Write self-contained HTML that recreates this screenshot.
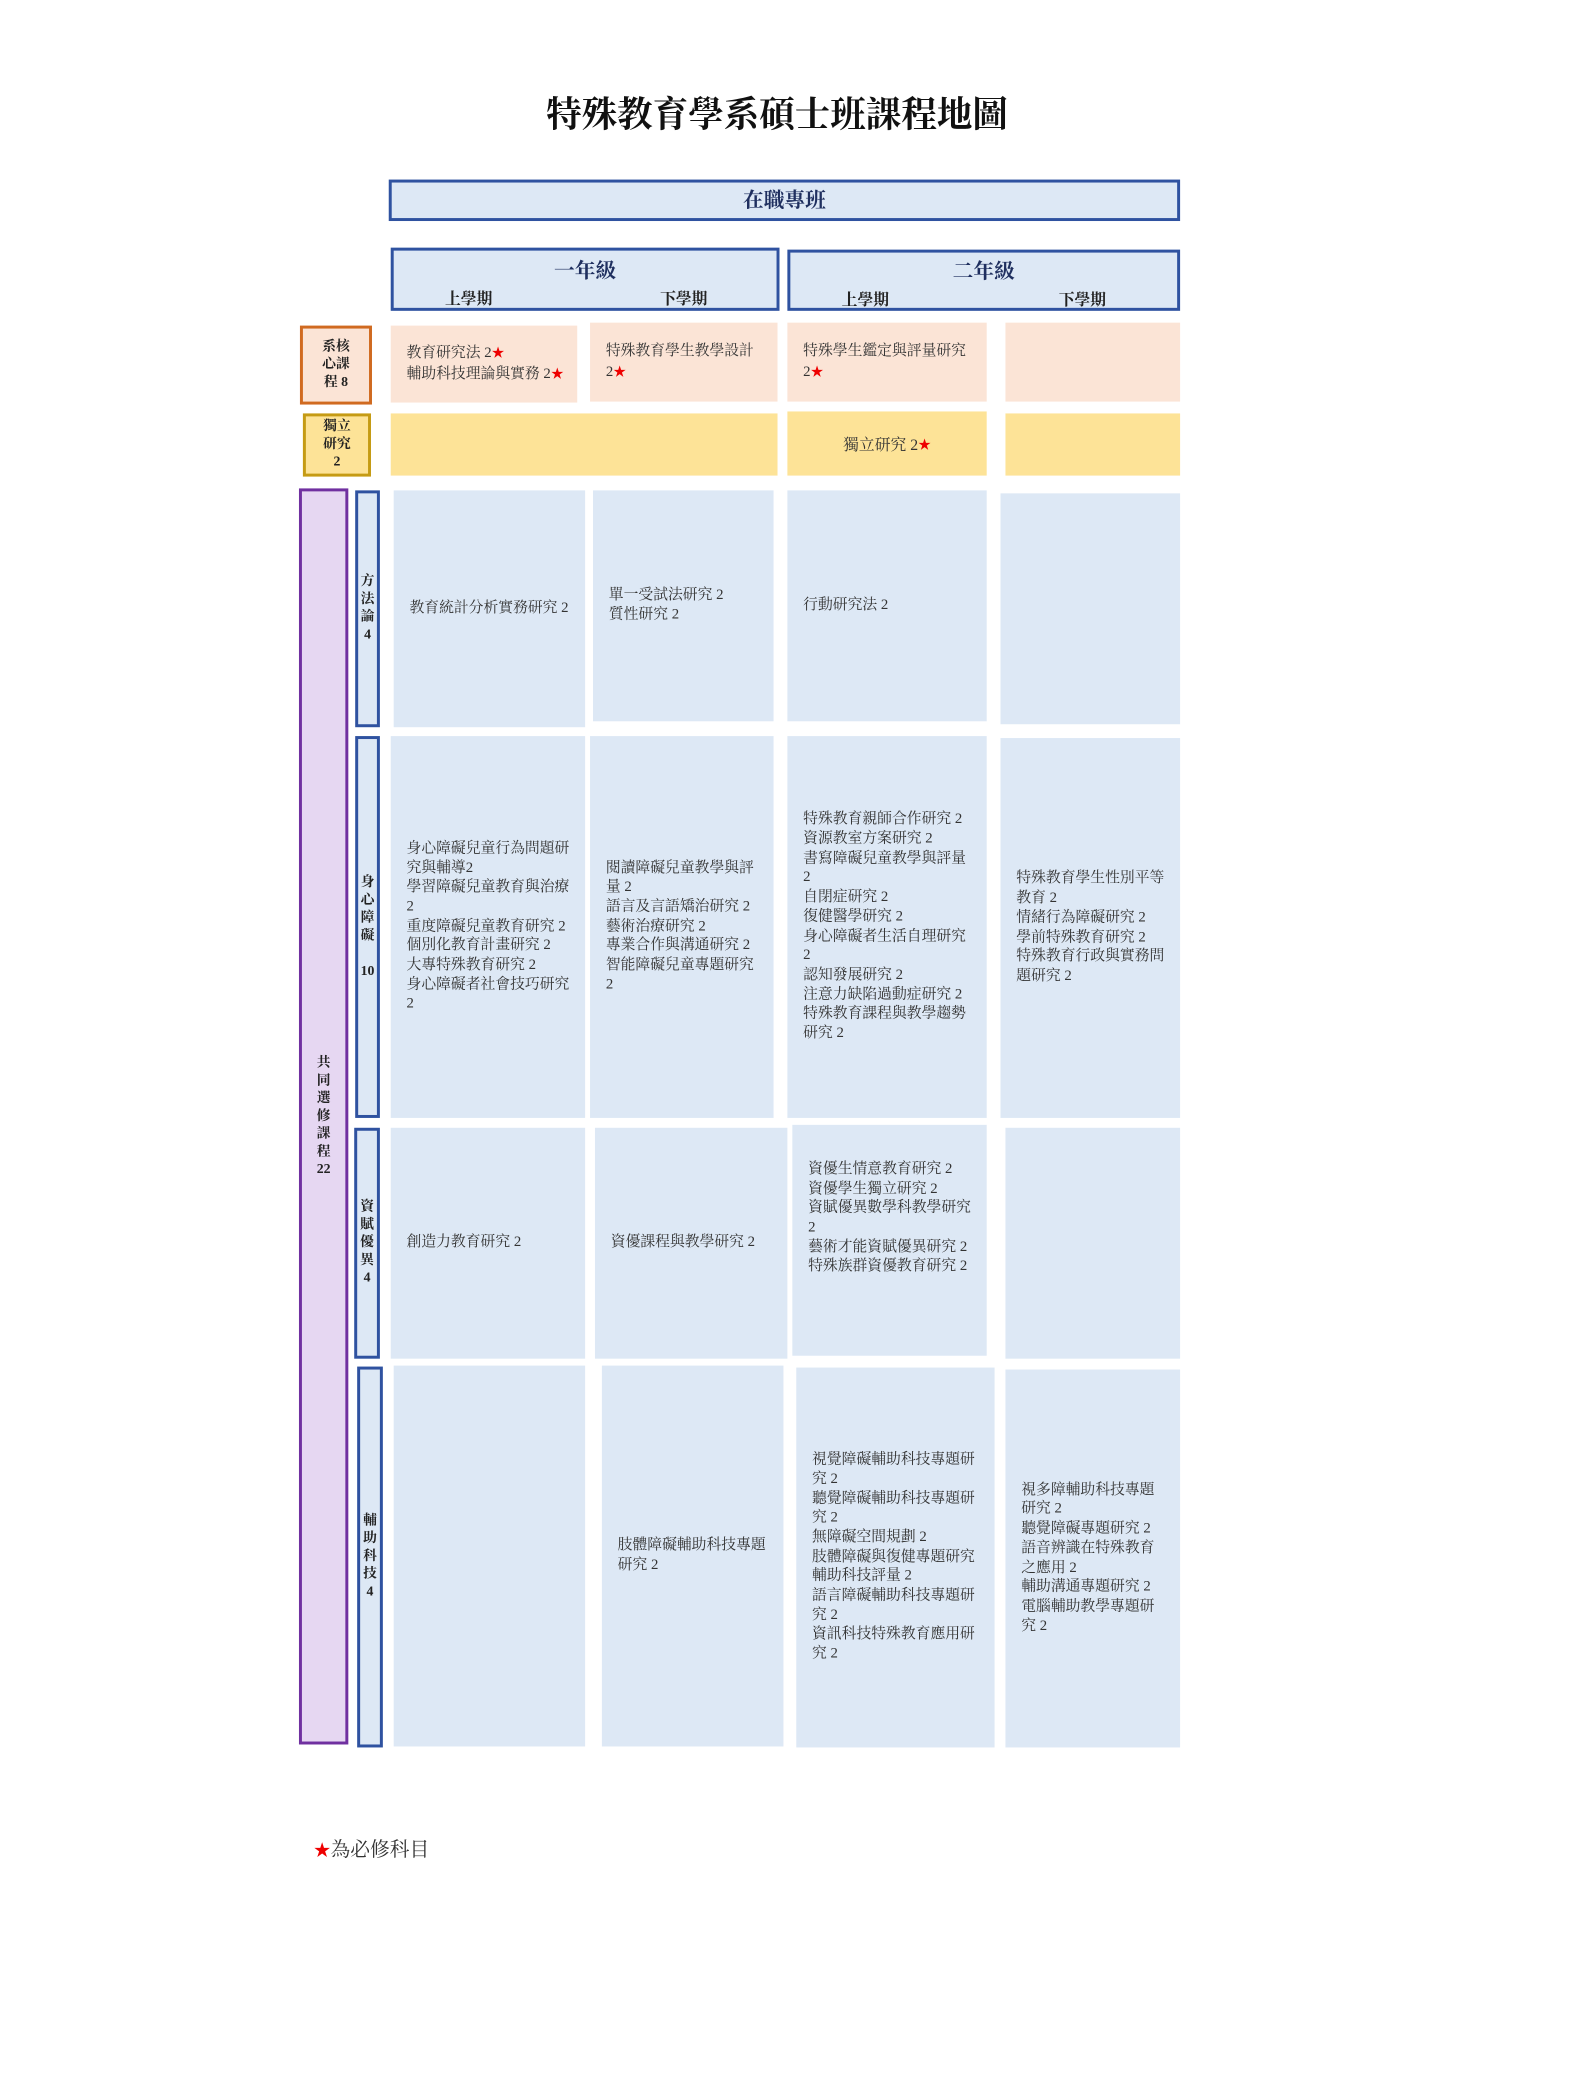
<!DOCTYPE html>
<html><head><meta charset="utf-8"><style>
body{margin:0;width:1575px;height:2100px;background:#fff;position:relative;overflow:hidden;font-family:"Liberation Serif","Noto Serif CJK SC","Noto Sans CJK TC",serif;}
#w{position:absolute;left:0;top:0;width:1575px;height:2100px;transform:scale(0.9867);transform-origin:0 0;}
.a{position:absolute;box-sizing:border-box;}
.c{display:flex;flex-direction:column;justify-content:center;padding-left:16px;font-size:15px;line-height:19.7px;color:#333;}
.c>div{white-space:pre-line;}
.b{background:#dde8f5;}
.p{background:#fbe4d6;}
.y{background:#fde397;}
.lab{display:flex;align-items:center;justify-content:center;text-align:center;font-weight:bold;color:#222;font-size:14px;line-height:18px;}
.vb{border:3px solid #2f52a0;background:#dde8f5;}
.hd{border:3px solid #2f52a0;background:#dde8f5;color:#1f2f5f;font-weight:bold;}
.s{color:#e00;font-size:13px;}
</style></head><body><div id="w">
<div class="a" style="left:0;width:1575px;top:88px;text-align:center;font-size:36px;font-weight:bold;color:#111;font-family:'Noto Serif CJK SC',serif;">特殊教育學系碩士班課程地圖</div>

<div class="a hd" style="left:394px;top:182px;width:802px;height:42px;text-align:center;font-size:21px;line-height:36px;">在職專班</div>
<div class="a hd" style="left:396px;top:251px;width:394px;height:64px;"><div style="text-align:center;font-size:21px;margin-top:4px;">一年級</div><div style="position:absolute;left:52px;top:36px;font-size:16px;color:#222">上學期</div><div style="position:absolute;left:270px;top:36px;font-size:16px;color:#222">下學期</div></div>
<div class="a hd" style="left:798px;top:253px;width:398px;height:62px;"><div style="text-align:center;font-size:21px;margin-top:3px;">二年級</div><div style="position:absolute;left:52px;top:35px;font-size:16px;color:#222">上學期</div><div style="position:absolute;left:272px;top:35px;font-size:16px;color:#222">下學期</div></div>

<div class="a lab p" style="left:304px;top:330px;width:73px;height:80px;border:3px solid #d06a20;">系核<br>心課<br>程 8</div>
<div class="a c p" style="left:396px;top:330px;width:189px;height:78px;"><div>教育研究法 2<span class="s">★</span>
輔助科技理論與實務 2<span class="s">★</span></div></div>
<div class="a c p" style="left:598px;top:327px;width:190px;height:80px;"><div>特殊教育學生教學設計
2<span class="s">★</span></div></div>
<div class="a c p" style="left:798px;top:327px;width:202px;height:80px;"><div>特殊學生鑑定與評量研究
2<span class="s">★</span></div></div>
<div class="a p" style="left:1019px;top:327px;width:177px;height:80px;"></div>

<div class="a lab y" style="left:307px;top:419px;width:69px;height:64px;border:3px solid #c59b14;">獨立<br>研究<br>2</div>
<div class="a y" style="left:396px;top:419px;width:392px;height:63px;"></div>
<div class="a y" style="left:798px;top:417px;width:202px;height:65px;display:flex;align-items:center;justify-content:center;font-size:16px;color:#333;">獨立研究 2<span class="s">★</span></div>
<div class="a y" style="left:1019px;top:419px;width:177px;height:63px;"></div>

<div class="a lab" style="left:303px;top:495px;width:50px;height:1273px;border:3px solid #7030a0;background:#e6d7f2;">共<br>同<br>選<br>修<br>課<br>程<br>22</div>

<div class="a lab vb" style="left:360px;top:497px;width:25px;height:240px;">方<br>法<br>論<br>4</div>
<div class="a c b" style="left:399px;top:497px;width:194px;height:240px;"><div>教育統計分析實務研究 2</div></div>
<div class="a c b" style="left:601px;top:497px;width:183px;height:234px;"><div>單一受試法研究 2
質性研究 2</div></div>
<div class="a c b" style="left:798px;top:497px;width:202px;height:234px;"><div>行動研究法 2</div></div>
<div class="a b" style="left:1014px;top:500px;width:182px;height:234px;"></div>

<div class="a lab vb" style="left:360px;top:746px;width:25px;height:387px;">身<br>心<br>障<br>礙<br><br>10</div>
<div class="a c b" style="left:396px;top:746px;width:197px;height:387px;"><div>身心障礙兒童行為問題研
究與輔導2
學習障礙兒童教育與治療
2
重度障礙兒童教育研究 2
個別化教育計畫研究 2
大專特殊教育研究 2
身心障礙者社會技巧研究
2</div></div>
<div class="a c b" style="left:598px;top:746px;width:186px;height:387px;"><div>閱讀障礙兒童教學與評
量 2
語言及言語矯治研究 2
藝術治療研究 2
專業合作與溝通研究 2
智能障礙兒童專題研究
2</div></div>
<div class="a c b" style="left:798px;top:746px;width:202px;height:387px;"><div>特殊教育親師合作研究 2
資源教室方案研究 2
書寫障礙兒童教學與評量
2
自閉症研究 2
復健醫學研究 2
身心障礙者生活自理研究
2
認知發展研究 2
注意力缺陷過動症研究 2
特殊教育課程與教學趨勢
研究 2</div></div>
<div class="a c b" style="left:1014px;top:748px;width:182px;height:385px;"><div>特殊教育學生性別平等
教育 2
情緒行為障礙研究 2
學前特殊教育研究 2
特殊教育行政與實務問
題研究  2</div></div>

<div class="a lab vb" style="left:359px;top:1143px;width:26px;height:234px;">資<br>賦<br>優<br>異<br>4</div>
<div class="a c b" style="left:396px;top:1143px;width:197px;height:234px;"><div>創造力教育研究 2</div></div>
<div class="a c b" style="left:603px;top:1143px;width:195px;height:234px;"><div>資優課程與教學研究 2</div></div>
<div class="a c b" style="left:803px;top:1140px;width:197px;height:234px;padding-bottom:44px;"><div>資優生情意教育研究 2
資優學生獨立研究 2
資賦優異數學科教學研究
2
藝術才能資賦優異研究 2
特殊族群資優教育研究 2</div></div>
<div class="a b" style="left:1019px;top:1143px;width:177px;height:234px;"></div>

<div class="a lab vb" style="left:362px;top:1385px;width:26px;height:386px;">輔<br>助<br>科<br>技<br>4</div>
<div class="a b" style="left:399px;top:1384px;width:194px;height:386px;"></div>
<div class="a c b" style="left:610px;top:1384px;width:184px;height:386px;"><div>肢體障礙輔助科技專題
研究 2</div></div>
<div class="a c b" style="left:807px;top:1386px;width:201px;height:385px;"><div>視覺障礙輔助科技專題研
究 2
聽覺障礙輔助科技專題研
究 2
無障礙空間規劃 2
肢體障礙與復健專題研究
輔助科技評量 2
語言障礙輔助科技專題研
究 2
資訊科技特殊教育應用研
究 2</div></div>
<div class="a c b" style="left:1019px;top:1388px;width:177px;height:383px;"><div>視多障輔助科技專題
研究 2
聽覺障礙專題研究 2
語音辨識在特殊教育
之應用 2
輔助溝通專題研究 2
電腦輔助教學專題研
究 2</div></div>

<div class="a" style="left:318px;top:1858px;font-size:20px;color:#333;"><span style="color:#e00;font-size:17px;">★</span>為必修科目</div>
</div></body></html>
